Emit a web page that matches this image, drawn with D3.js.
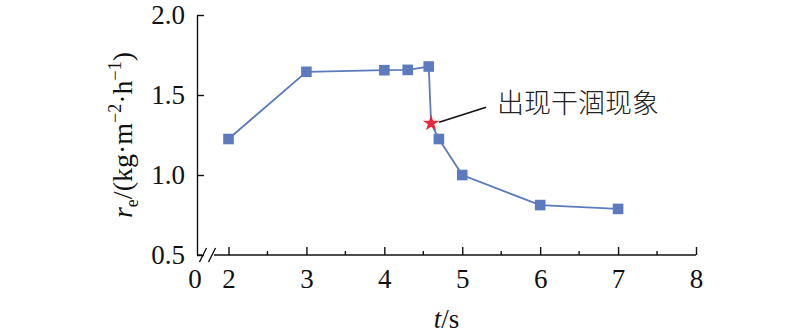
<!DOCTYPE html>
<html>
<head>
<meta charset="utf-8">
<script src="https://cdn.jsdelivr.net/npm/d3@7"></script>
</head>
<body style="margin:0">
<script>
// measured points: time t (s) vs evaporation rate r_e
var times = [2, 3, 4, 4.3, 4.57, 4.6, 4.7, 5, 6, 7];
var rates = [1.225, 1.645, 1.655, 1.657, 1.678, 1.323, 1.225, 1.0, 0.812, 0.788];
var starIndex = 5; // the point where drying out starts
var xTicks = [2, 3, 4, 5, 6, 7, 8];
var xMinorTicks = [2.5, 3.5, 4.5, 5.5, 6.5, 7.5];
var yTicks = [0.5, 1.0, 1.5, 2.0];
var annotationText = "出现干涸现象";

var W = 800, H = 336;
var margin = {top: 15, right: 104, bottom: 81, left: 197};
var width = W - margin.left - margin.right;
var height = H - margin.top - margin.bottom;

var svg = d3.select("body").append("svg")
    .attr("width", W)
    .attr("height", H);

var g = svg.append("g")
    .attr("transform", "translate(" + margin.left + "," + margin.top + ")");

// broken x axis: 0 sits on the y axis, then a gap up to 2
var x = d3.scaleLinear()
    .domain([0, 2, 8])
    .range([0, 31.5, width]);
var y = d3.scaleLinear()
    .domain([0.5, 2.0])
    .range([height, 0]);

var color = "#5b7bbd";

// serif text helper, same way the font test page set it
function serifText(sel, size) {
    return sel.attr("font-family", "Liberation Serif").attr("font-size", size);
}

// y axis
var yAxis = g.append("g")
    .call(d3.axisLeft(y)
        .tickValues(yTicks)
        .tickFormat(d3.format(".1f"))
        .tickSizeInner(-7)
        .tickSizeOuter(0)
        .tickPadding(12));
yAxis.attr("font-family", null).attr("font-size", null);
serifText(yAxis.selectAll("text"), 27).attr("fill", "#111");
yAxis.selectAll("line, path").attr("stroke", "#111").attr("stroke-width", 1.4);

// x axis (major ticks + labels)
var xAxis = g.append("g")
    .attr("transform", "translate(0," + height + ")")
    .call(d3.axisBottom(x)
        .tickValues(xTicks)
        .tickFormat(d3.format("d"))
        .tickSizeInner(-8)
        .tickSizeOuter(0)
        .tickPadding(14));
xAxis.attr("font-family", null).attr("font-size", null);
xAxis.select(".domain").remove();
serifText(xAxis.selectAll("text"), 27).attr("fill", "#111");
xAxis.selectAll("line").attr("stroke", "#111").attr("stroke-width", 1.4);

// minor ticks
g.append("g")
    .attr("transform", "translate(0," + height + ")")
    .selectAll("line")
    .data(xMinorTicks)
    .enter().append("line")
    .attr("x1", function (d) { return x(d); })
    .attr("x2", function (d) { return x(d); })
    .attr("y1", 0)
    .attr("y2", -4)
    .attr("stroke", "#111")
    .attr("stroke-width", 1.4);

// origin label
serifText(g.append("text"), 27)
    .attr("x", x(0) - 2)
    .attr("y", height + 14)
    .attr("dy", "0.71em")
    .attr("text-anchor", "middle")
    .attr("fill", "#111")
    .text("0");

// x axis line with break marks
var brk = g.append("g")
    .attr("transform", "translate(0," + height + ")")
    .attr("stroke", "#111")
    .attr("stroke-width", 1.4)
    .attr("fill", "none");
brk.append("line").attr("x1", 0).attr("x2", 5).attr("y1", 0).attr("y2", 0);
brk.append("line").attr("x1", 17).attr("x2", width).attr("y1", 0).attr("y2", 0);
[6, 15].forEach(function (cx) {
    brk.append("line")
        .attr("x1", cx - 3.5).attr("y1", 7)
        .attr("x2", cx + 3.5).attr("y2", -7);
});

// series line
var pts = times.map(function (t, i) { return {t: t, r: rates[i]}; });
var line = d3.line()
    .x(function (d) { return x(d.t); })
    .y(function (d) { return y(d.r); });

g.append("path")
    .datum(pts)
    .attr("fill", "none")
    .attr("stroke", color)
    .attr("stroke-width", 1.8)
    .attr("d", line);

// square markers
g.selectAll(".pt")
    .data(pts.filter(function (d, i) { return i !== starIndex; }))
    .enter().append("rect")
    .attr("class", "pt")
    .attr("x", function (d) { return x(d.t) - 5.3; })
    .attr("y", function (d) { return y(d.r) - 5.3; })
    .attr("width", 10.6)
    .attr("height", 10.6)
    .attr("fill", color);

// star marker
var star = pts[starIndex];
var sx = x(star.t), sy = y(star.r);
g.append("path")
    .attr("d", d3.symbol().type(d3.symbolStar).size(85)())
    .attr("transform", "translate(" + sx + "," + sy + ")")
    .attr("fill", "#e8283c");

// annotation
g.append("line")
    .attr("x1", sx + 8).attr("y1", sy - 1)
    .attr("x2", sx + 55).attr("y2", sy - 16)
    .attr("stroke", "#111")
    .attr("stroke-width", 1.5);
g.append("text")
    .attr("x", sx + 66)
    .attr("y", sy - 20)
    .attr("dy", "0.35em")
    .attr("font-family", "Noto Sans CJK SC")
    .attr("font-weight", 300)
    .attr("font-size", 27)
    .attr("fill", "#222")
    .text(annotationText);

// y title
var yt = serifText(svg.append("text"), 28)
    .attr("transform", "translate(132," + (margin.top + height / 2) + ") rotate(-90)")
    .attr("text-anchor", "middle")
    .attr("fill", "#111");
yt.append("tspan").attr("font-style", "italic").text("r");
yt.append("tspan").attr("font-size", 18).attr("dy", 6).text("e");
yt.append("tspan").attr("dy", -6).text("/(kg·m");
yt.append("tspan").attr("font-size", 18).attr("dy", -11).text("−2");
yt.append("tspan").attr("dy", 11).text("·h");
yt.append("tspan").attr("font-size", 18).attr("dy", -11).text("−1");
yt.append("tspan").attr("dy", 11).text(")");

// x title
var xt = serifText(svg.append("text"), 27)
    .attr("x", margin.left + width / 2)
    .attr("y", 328)
    .attr("text-anchor", "middle")
    .attr("fill", "#111");
xt.append("tspan").attr("font-style", "italic").text("t");
xt.append("tspan").text("/s");
</script>
</body>
</html>
